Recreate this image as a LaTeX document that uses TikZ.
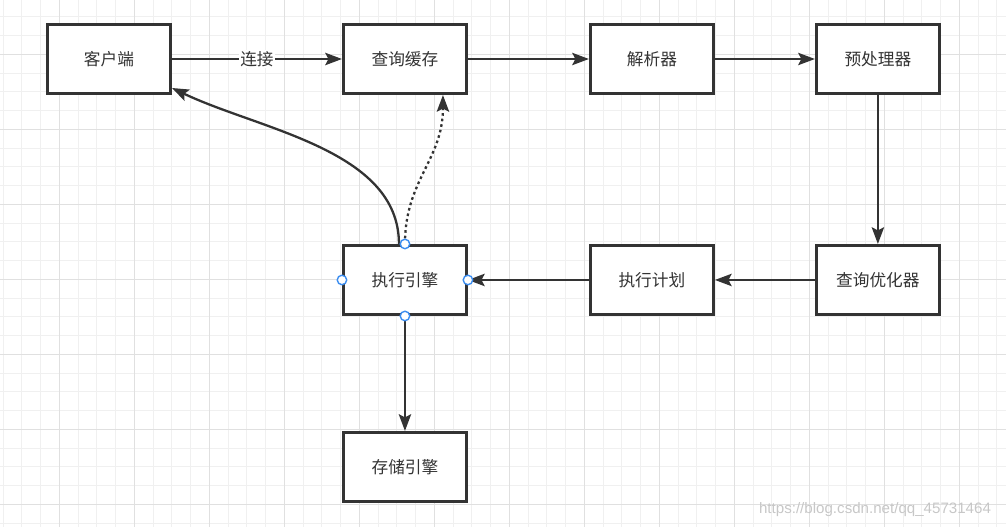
\documentclass[tikz,border=0pt]{standalone}
\usepackage{fontspec}
\newfontfamily\cjk{Noto Sans CJK SC}
\newfontfamily\wmfont{Liberation Sans}
\usetikzlibrary{arrows.meta,positioning}

\definecolor{ink}{HTML}{333333}
\definecolor{portblue}{HTML}{3D8EF0}

\begin{document}
\begin{tikzpicture}[x=0.02cm,y=-0.02cm,>={Stealth[length=9.5pt,width=7pt,inset=1.8pt]},
  box/.style={draw=ink,line width=1.6pt,fill=white,minimum width=2.464cm,minimum height=1.384cm,
    font=\cjk\fontsize{9.5}{11}\selectfont,text=ink},
  arr/.style={->,draw=ink,line width=1.3pt},
  lbl/.style={fill=white,inner sep=1pt,font=\cjk\fontsize{9.5}{11}\selectfont,text=ink},
  port/.style={circle,draw=portblue,fill=white,line width=0.8pt,minimum size=0.19cm,inner sep=0pt},
  minor/.style={black!6,line width=0.6pt},
  major/.style={black!12,line width=0.6pt}]

\useasboundingbox (0,0) rectangle (1006,527);

% grid
\foreach \i in {0,...,53} \draw[minor] ({3.05+18.75*\i},0) -- ({3.05+18.75*\i},527);
\foreach \j in {0,...,27} \draw[minor] (0,{16.8+18.75*\j}) -- (1006,{16.8+18.75*\j});
\foreach \i in {0,...,12} \draw[major] ({59.3+75*\i},0) -- ({59.3+75*\i},527);
\foreach \j in {0,...,6} \draw[major] (0,{54.3+75*\j}) -- (1006,{54.3+75*\j});

\node[box] (client) at (109,59) {客户端};
\node[box,right=3.4cm of client] (cache) {查询缓存};
\node[box,right=2.42cm of cache] (parser) {解析器};
\node[box,right=2cm of parser] (preproc) {预处理器};
\node[box,below=2.98cm of preproc] (optimizer) {查询优化器};
\node[box,left=2cm of optimizer] (plan) {执行计划};
\node[box,left=2.42cm of plan] (executor) {执行引擎};
\node[box,below=2.3cm of executor] (storage) {存储引擎};

\draw[arr] (client) -- node[lbl] (conn) {连接} (cache);
\draw[arr] (cache) -- (parser);
\draw[arr] (parser) -- (preproc);
\draw[arr] (preproc) -- (optimizer);
\draw[arr] (optimizer) -- (plan);
\draw[arr] (plan) -- (executor);
\draw[arr] (executor) -- (storage);
\draw[arr] ([xshift=-0.12cm]executor.north) .. controls +(0,-94) and +(88,42) .. ([yshift=0.14cm]client.south east);
\draw[arr,dash pattern=on 1.5pt off 1.7pt] (executor.north) .. controls +(0,-64) and +(0,65) .. ([xshift=0.76cm]cache.south);

\foreach \a in {north,east,south,west}
  \node[port] (p-\a) at (executor.\a) {};

\node[text=black!22,font=\wmfont\fontsize{8.6}{10}\selectfont] (mark) at (875,510) {https://blog.csdn.net/qq\_45731464};

\end{tikzpicture}
\end{document}
